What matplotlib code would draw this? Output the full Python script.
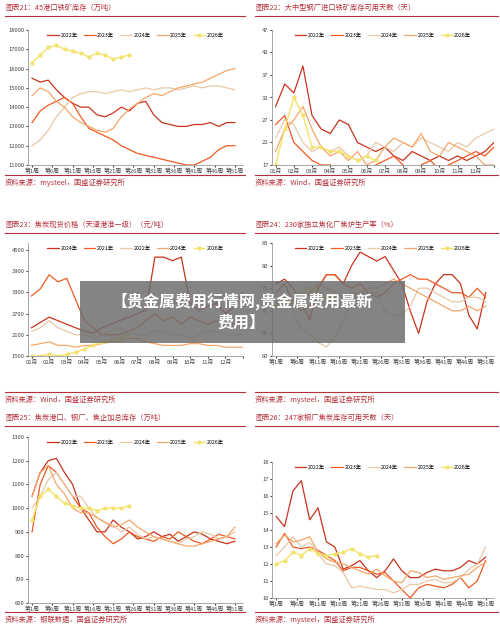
import matplotlib
matplotlib.use("Agg")
import matplotlib.pyplot as plt
import matplotlib.patches as mpatches

plt.rcParams['font.family'] = ['Noto Sans CJK SC', 'DejaVu Sans']

C = {'2022年': '#c8341e', '2023年': '#f05a22', '2024年': '#e8c9a8', '2025年': '#f5a66a', '2026年': '#f3e36c'}

weeks = [1,3,5,7,9,11,13,15,17,19,21,23,25,27,29,31,33,35,37,39,41,43,45,47,49,51]
weeks26 = weeks[:13]
week_ticks = [1,6,11,16,21,26,31,36,41,46,51]
week_labels = ['第1周','第6周','第11周','第16周','第21周','第26周','第31周','第36周','第41周','第46周','第51周']
months = [1,1.5,2,2.5,3,3.5,4,4.5,5,5.5,6,6.5,7,7.5,8,8.5,9,9.5,10,10.5,11,11.5,12,12.5,13]
month_ticks = list(range(1,14))
month_labels = ['01月','02月','03月','04月','05月','06月','07月','08月','09月','10月','11月','12月','']

# Panel 21
p21_2022 = [15500,15300,15400,14900,14500,14200,14000,14000,13600,13500,13700,14000,13800,14200,14300,13600,13200,13100,13000,13000,13100,13100,13200,13000,13200,13200]
p21_2023 = [13200,13800,14100,14300,14500,14200,13500,12900,12700,12500,12300,12000,11800,11600,11500,11400,11300,11200,11100,11000,11000,11200,11400,11800,12000,12000]
p21_2024 = [12000,12300,12800,13500,14000,14500,14700,14800,14800,14700,14800,14900,14800,14900,15000,14900,15000,15000,14900,15000,15100,15000,15100,15100,15000,14900]
p21_2025 = [14600,15000,14800,14300,14000,13500,13200,13000,12800,12700,12900,13500,13900,14200,14500,14700,14600,14800,15000,15100,15200,15300,15500,15700,15900,16000]
p21_2026 = [16300,16700,17100,17200,17000,16900,16800,16600,16800,16700,16500,16600,16700]

# Panel 22
p22_2022 = [30,35,33,39,28,25,24,27,26,22,21,20,21,19,18,20,19,18,19,18,19,18,19,20,22]
p22_2023 = [26,28,22,20,18,17,17,16,15,16,15,17,18,19,17,16,17,18,16,17,18,19,20,19,21]
p22_2024 = [23,27,26,22,20,21,20,21,19,18,19,22,21,20,22,21,23,22,21,20,22,21,23,24,25]
p22_2025 = [20,25,27,30,25,21,19,20,18,20,17,18,21,23,22,21,24,20,19,22,21,20,19,17,17]
p22_2026 = [17,25,32,28,21,21,20,20,19,18,19,18]

# Panel 23
p23_a = [2300,2450,2600,2500,2400,2300,2200,2150,2300,2400,2500,2600,2700,2800,4300,4300,4200,4300,3000,2800,2900,3000,2700,2900,3300]
p23_b = [3200,3400,3800,3600,3700,3100,2500,2300,2100,2100,2100,2200,2300,2500,2700,2500,2600,2400,2600,2500,2400,2500,2400,2400,2500]
p23_c = [2200,2300,2500,2300,2200,2100,2100,2000,2100,2200,2300,2200,2100,2100,2200,2200,2100,2100,2000,2100,2200,2200,2100,2100,2100]
p23_d = [1800,1850,1900,1800,1800,1750,1800,1800,1850,1900,1900,2000,2000,1900,1850,1800,1800,1800,1850,1850,1800,1800,1750,1750,1750]
p23_e = [1500,1500,1550,1500,1550,1600,1700,1800,1900,1950,2000,2100]
p23_labels = ['2024年','2021年','2022年','2024年','2026年']

# Panel 24
p24_2022 = [76,77,75,72,68,75,78,78,76,80,83,82,81,82,79,76,70,65,72,76,78,78,76,69,66,74]
p24_2023 = [74,76,72,70,71,75,78,78,76,75,76,74,73,74,76,77,78,77,77,76,75,74,74,73,75,73]
p24_2024 = [73,72,70,66,65,63,62,64,68,72,74,74,74,70,69,69,71,75,75,74,73,72,72,73,73,72]
p24_2025 = [72,73,71,72,74,76,75,74,73,74,74,75,75,76,77,76,75,74,73,72,71,70,70,71,70,71]
p24_2026 = [71,72,72,74,75,74,73,73]

# Panel 25
p25_2022 = [1050,1150,1200,1210,1150,1100,1000,950,900,900,950,920,900,870,880,900,880,890,860,880,900,890,870,860,850,860]
p25_2023 = [900,1100,1180,1150,1100,1050,1000,980,920,880,850,870,900,880,870,860,880,870,900,880,860,850,870,890,880,870]
p25_2024 = [1000,1050,1120,1150,1100,1050,1050,1000,960,940,930,900,920,890,870,880,870,860,850,870,880,900,890,870,880,900]
p25_2025 = [1050,1150,1180,1100,1060,1000,980,980,960,940,920,930,950,920,900,880,870,860,850,840,840,850,860,870,880,920]
p25_2026 = [950,1050,1080,1050,1020,1010,1000,1000,990,1000,1000,1000,1010]

# Panel 26
p26_2022 = [14.8,14.2,16.3,16.9,14.6,15.3,13.3,13.0,11.7,11.9,12.2,11.6,11.2,11.6,12.3,11.6,11.2,11.2,11.5,11.7,11.6,11.6,11.8,12.2,12.0,12.4]
p26_2023 = [13.0,13.8,13.0,12.9,13.0,12.8,12.5,12.2,11.6,11.8,11.8,11.6,11.4,11.5,11.0,10.5,10.0,10.6,10.8,10.7,10.6,10.8,11.2,10.6,11.0,12.2]
p26_2024 = [12.5,13.0,13.6,13.0,13.3,12.6,12.0,11.9,11.5,10.6,10.7,10.6,10.5,10.5,10.3,10.5,10.8,10.8,11.0,11.1,10.9,10.9,11.2,11.7,12.0,13.0]
p26_2025 = [13.2,13.7,13.3,13.4,13.6,12.7,12.3,12.1,12.0,11.8,11.6,11.4,11.7,11.3,11.0,10.9,11.6,11.5,11.2,11.3,11.1,11.2,11.3,11.4,11.8,12.1]
p26_2026 = [12.0,12.2,12.7,12.5,12.9,12.6,12.5,12.6,12.7,12.9,12.6,12.4,12.5]

fig = plt.figure(figsize=(5.0, 6.27), dpi=100)
W, H = 500, 627
RED = '#b5303a'

def ax_at(l, t, r, b):
    return fig.add_axes([l/W, 1-b/H, (r-l)/W, (b-t)/H])

def frame(x0, x1, ty, sy, title, src):
    fig.text(x0/W, 1-ty/H, title, color=RED, fontsize=5.2, style='italic', va='center')
    fig.add_artist(plt.Line2D([x0/W, x1/W], [1-(ty+8)/H]*2, color=RED, lw=0.8))
    fig.add_artist(plt.Line2D([x0/W, x1/W], [1-(sy-8)/H]*2, color=RED, lw=0.8))
    fig.text(x0/W, 1-sy/H, src, color=RED, fontsize=5.2, style='italic', va='center')

def style(ax, yt, ylim, xt, xl, xlim):
    ax.set_ylim(*ylim); ax.set_yticks(yt)
    ax.set_xlim(*xlim); ax.set_xticks(xt); ax.set_xticklabels(xl)
    ax.tick_params(labelsize=4.2, length=1.5, pad=1, colors='#444')
    for s in ['top', 'right']:
        ax.spines[s].set_visible(False)
    for s in ['left', 'bottom']:
        ax.spines[s].set_color('#999'); ax.spines[s].set_linewidth(0.6)

def series(ax, xs, ys_list, labels, colors):
    for ys, lab, col in zip(ys_list, labels, colors):
        x = xs[:len(ys)]
        if col == C['2026年']:
            ax.plot(x, ys, color=col, lw=1.0, marker='o', ms=2, label=lab)
        else:
            ax.plot(x, ys, color=col, lw=0.9, label=lab)
    ax.legend(loc='upper center', ncol=5, fontsize=3.8, frameon=False, handlelength=2.2,
              columnspacing=1.2, borderaxespad=0.2, handletextpad=0.3)

yrs = ['2022年','2023年','2024年','2025年','2026年']
cols = [C[y] for y in yrs]

frame(5, 245, 8, 183, '图表21：45港口铁矿库存（万吨）', '资料来源：mysteel，国盛证券研究所')
ax = ax_at(28, 30, 243, 165)
series(ax, weeks, [p21_2022, p21_2023, p21_2024, p21_2025, p21_2026], yrs, cols)
style(ax, range(11000, 18001, 1000), (11000, 18000), week_ticks, week_labels, (0, 53))

frame(255, 498, 8, 183, '图表22：大中型钢厂进口铁矿库存可用天数（天）', '资料来源：Wind，国盛证券研究所')
ax = ax_at(272, 30, 494, 165)
series(ax, months, [p22_2022, p22_2023, p22_2024, p22_2025, p22_2026], yrs, cols)
style(ax, range(17, 48, 5), (17, 47), month_ticks, month_labels, (0.8, 13))

frame(5, 245, 225, 400, '图表23：焦炭现货价格（天津港准一级）（元/吨）', '资料来源：Wind，国盛证券研究所')
ax = ax_at(28, 243, 243, 356)
series(ax, months, [p23_a, p23_b, p23_c, p23_d, p23_e], p23_labels, cols)
style(ax, range(1500, 4701, 600), (1500, 4700), month_ticks, month_labels, (0.8, 13))

frame(255, 498, 225, 400, '图表24：230家独立焦化厂焦炉生产率（%）', '资料来源：mysteel，国盛证券研究所')
ax = ax_at(272, 243, 494, 356)
series(ax, weeks, [p24_2022, p24_2023, p24_2024, p24_2025, p24_2026], yrs, cols)
style(ax, range(60, 86, 5), (60, 85), week_ticks, week_labels, (0, 53))

frame(5, 245, 418, 620, '图表25：焦炭港口、钢厂、焦企加总库存（万吨）', '资料来源：钢联数据，国盛证券研究所')
ax = ax_at(28, 437, 243, 603)
series(ax, weeks, [p25_2022, p25_2023, p25_2024, p25_2025, p25_2026], yrs, cols)
style(ax, range(600, 1301, 100), (600, 1300), week_ticks, week_labels, (0, 53))

frame(255, 498, 418, 620, '图表26：247家钢厂焦炭库存可用天数（天）', '资料来源：mysteel，国盛证券研究所')
ax = ax_at(272, 462, 494, 598)
series(ax, weeks, [p26_2022, p26_2023, p26_2024, p26_2025, p26_2026], yrs, cols)
style(ax, range(10, 19, 1), (10, 18), week_ticks, week_labels, (0, 53))

fig.add_artist(mpatches.Rectangle((80/W, 1-343/H), 325/W, 62/H, transform=fig.transFigure,
                                  facecolor='#6e6e6e', alpha=0.85, edgecolor='none', zorder=10))
fig.text(242/W, 1-312/H, '【贵金属费用行情网,贵金属费用最新\n费用】', color='white', fontsize=11.5,
         fontweight='bold', ha='center', va='center', zorder=11, linespacing=1.35)

fig.savefig('out.png', dpi=100)
